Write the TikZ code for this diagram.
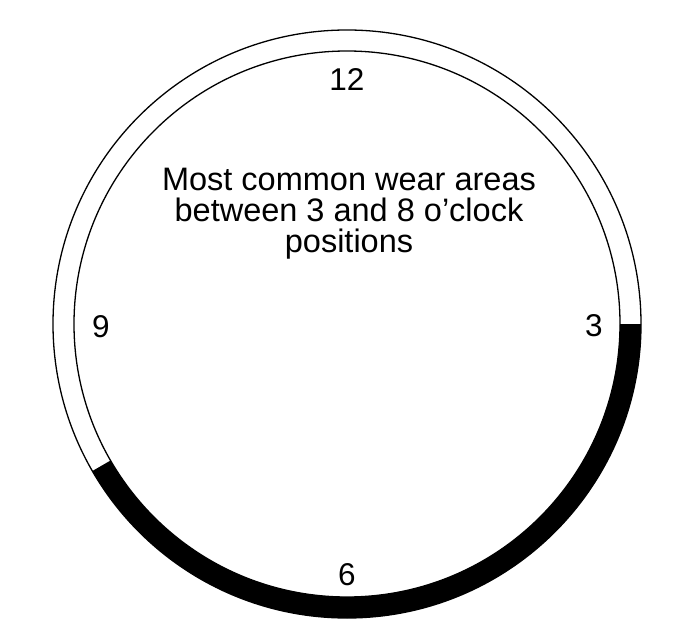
\documentclass[tikz,border=0pt]{standalone}
\usepackage{fontspec}
\setmainfont{Liberation Sans}
\begin{document}
\begin{tikzpicture}[x=1pt,y=1pt,
  ringline/.style={line width=1.3pt},
  num/.style={font=\fontsize{31.5}{31.5}\selectfont, inner sep=0pt},
  caption/.style={font=\fontsize{32.5}{31}\selectfont, align=center, inner sep=0pt}]
\useasboundingbox (0,0) rectangle (696,-644);
\coordinate (c) at (347,-324);
\fill[black] ([shift={(0:294)}]c) arc[start angle=0,end angle=-150,radius=294]
  -- ([shift={(-150:273)}]c) arc[start angle=-150,end angle=0,radius=273] -- cycle;
\draw[ringline] (c) circle[radius=294];
\draw[ringline] (c) circle[radius=273];
\node[num] (n12) at (347,-80) {12};
\node[num] (n3) at (594,-326) {3};
\node[num] (n6) at (347,-575) {6};
\node[num] (n9) at (101,-327) {9};
\node[caption] (cap) at (349,-214) {Most common wear areas\\between 3 and 8 o’clock\\positions};
\end{tikzpicture}
\end{document}
